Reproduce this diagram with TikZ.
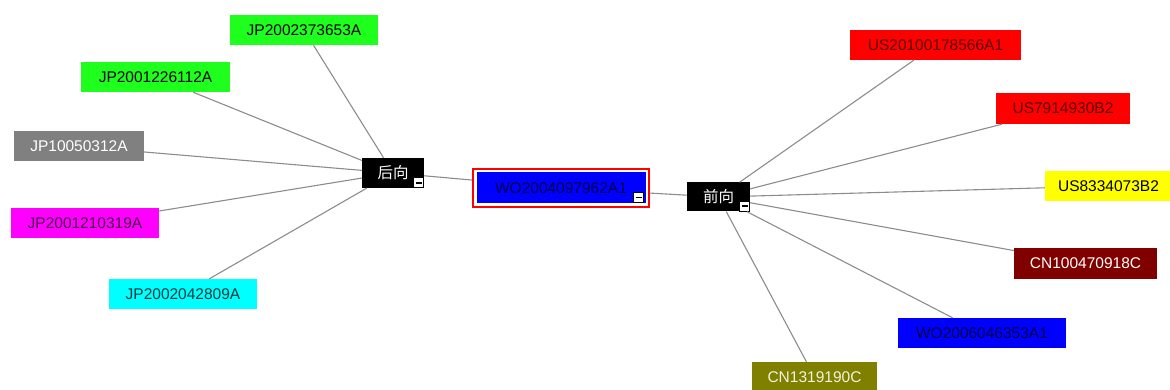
\documentclass[tikz,border=0pt]{standalone}
\usepackage{fontspec}
\setmainfont{Liberation Sans}
\newfontfamily\cjk{Noto Sans CJK SC}

\definecolor{linegray}{HTML}{8C8C8C}
\definecolor{leafgreen}{HTML}{1EFF1E}
\definecolor{leafgray}{HTML}{808080}
\definecolor{leafmagenta}{HTML}{FF00FF}
\definecolor{leafcyan}{HTML}{00FFFF}
\definecolor{leafred}{HTML}{FF0000}
\definecolor{leafyellow}{HTML}{FFFF00}
\definecolor{leafmaroon}{HTML}{800000}
\definecolor{leafblue}{HTML}{0000FF}
\definecolor{leafolive}{HTML}{808000}
\definecolor{txtnavy}{HTML}{00004A}
\definecolor{txtpurple}{HTML}{4A004A}
\definecolor{txtteal}{HTML}{003A3A}
\definecolor{txtdarkred}{HTML}{5A0000}
\definecolor{txtcream}{HTML}{F2F2DC}

\tikzset{
  leaf/.style={rectangle, inner sep=0pt, minimum height=30,
    font=\fontsize{15.5}{17}\selectfont},
  hub/.style={rectangle, fill=black, text=white, inner sep=0pt,
    font=\cjk\fontsize{15.5}{17}\selectfont},
  minusbox/.style={rectangle, fill=white, draw=black, line width=0.8,
    minimum size=10, inner sep=0pt,
    path picture={\draw [line width=1.6]
      ([xshift=2]path picture bounding box.west) --
      ([xshift=-2]path picture bounding box.east);}},
  link/.style={draw=linegray, line width=1.1},
}

\begin{document}
\begin{tikzpicture}[x=1pt,y=-1pt]
	\useasboundingbox (0,0) rectangle (1170,390);

	% root record
	\node [leaf, fill=leafblue, draw=white, line width=1, minimum width=170,
	       minimum height=32, text=txtnavy, outer sep=4] (root) at (561,188) {WO2004097962A1};
	\draw [red, line width=2.2] ([shift={(1,-1)}]root.south west) rectangle ([shift={(-1,1)}]root.north east);
	\node [minusbox, anchor=south east] (rootmin) at ([shift={(-6,-5)}]root.south east) {};

	% backward / forward hubs
	\node [hub, minimum width=62, minimum height=30] (back) at (393,173) {后向};
	\node [minusbox, anchor=south east] (backmin) at (back.south east) {};
	\node [hub, minimum width=63, minimum height=29] (fwd) at (718.5,197) {前向};
	\node [minusbox, anchor=south east] (fwdmin) at (fwd.south east) {};

	% cited (left)
	\node [leaf, fill=leafgreen, minimum width=148] (jpa) at (304,30) {JP2002373653A};
	\node [leaf, fill=leafgreen, minimum width=149] (jpb) at (155.5,77) {JP2001226112A};
	\node [leaf, fill=leafgray, text=white, minimum width=130] (jpc) at (79,146.5) {JP10050312A};
	\node [leaf, fill=leafmagenta, text=txtpurple, minimum width=148] (jpd) at (85,223) {JP2001210319A};
	\node [leaf, fill=leafcyan, text=txtteal, minimum width=148] (jpe) at (183,294) {JP2002042809A};

	% citing (right)
	\node [leaf, fill=leafred, text=txtdarkred, minimum width=171] (usa) at (935.5,45) {US20100178566A1};
	\node [leaf, fill=leafred, text=txtdarkred, minimum width=134, minimum height=31] (usb) at (1063,108.5) {US7914930B2};
	\node [leaf, fill=leafyellow, minimum width=127] (usc) at (1108.5,186) {US8334073B2};
	\node [leaf, fill=leafmaroon, text=white, minimum width=143] (cna) at (1085.5,263.5) {CN100470918C};
	\node [leaf, fill=leafblue, text=txtnavy, minimum width=168] (woa) at (982,333) {WO2006046353A1};
	\node [leaf, fill=leafolive, text=txtcream, minimum width=125] (cnb) at (814.5,377) {CN1319190C};

	% connectors
	\draw [link] (back) -- (root);
	\draw [link] (root) -- (fwd);
	\foreach \n in {jpa,jpb,jpc,jpd,jpe}
		\draw [link] (back) -- (\n);
	\foreach \n in {usa,usb,usc,cna,woa,cnb}
		\draw [link] (fwd) -- (\n);
\end{tikzpicture}
\end{document}
